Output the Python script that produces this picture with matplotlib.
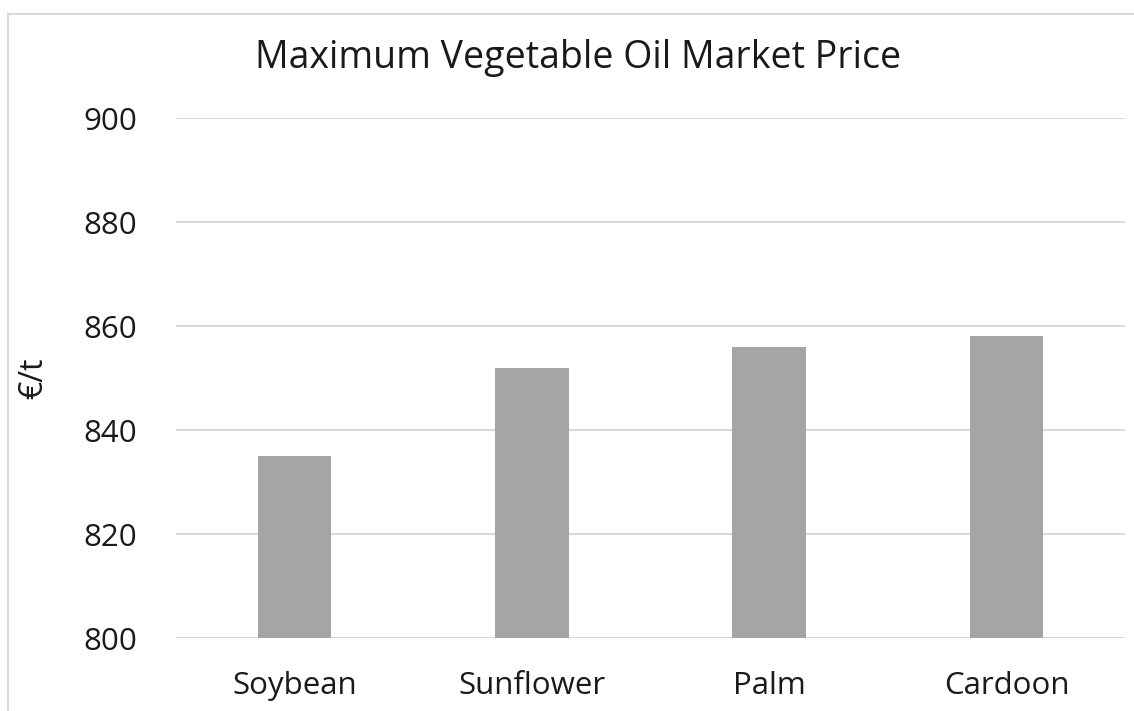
import matplotlib
matplotlib.use("Agg")
import matplotlib.pyplot as plt
from matplotlib.patches import Rectangle

categories = ["Soybean", "Sunflower", "Palm", "Cardoon"]
prices = [835, 852, 856, 858]
yticks = [800, 820, 840, 860, 880, 900]

plt.rcParams['font.family'] = ['Open Sans', 'DejaVu Sans']

W, H = 1134, 711
fig = plt.figure(figsize=(W/100, H/100), dpi=100)
ax = fig.add_axes([176/W, 1-638/H, (1125-176)/W, (638-118)/H])

ax.bar(range(len(categories)), prices, width=0.31, color="#A5A5A5", zorder=3)
ax.set_xlim(-0.5, len(categories)-0.5)
ax.set_ylim(800, 900)
ax.set_yticks(yticks)
ax.set_xticks(range(len(categories)))
ax.set_xticklabels(categories)
ax.grid(axis='y', color="#D9D9D9", linewidth=1.5, zorder=0)
for s in ax.spines.values():
    s.set_visible(False)
ax.tick_params(axis='both', length=0, labelsize=22.5, colors="#1a1a1a")
ax.tick_params(axis='y', pad=28)
ax.tick_params(axis='x', pad=24)
ax.set_ylabel("€/t", fontsize=23, color="#1a1a1a", labelpad=24)

fig.text(578/W, 1-58/H, "Maximum Vegetable Oil Market Price", fontsize=27,
         ha='center', va='center', color="#1a1a1a")

fig.patches.append(Rectangle((8/W, -0.1), 1.2, 1-14/H+0.1, transform=fig.transFigure,
                             fill=False, edgecolor="#D9D9D9", linewidth=1.5))

fig.savefig("out.png", dpi=100)
